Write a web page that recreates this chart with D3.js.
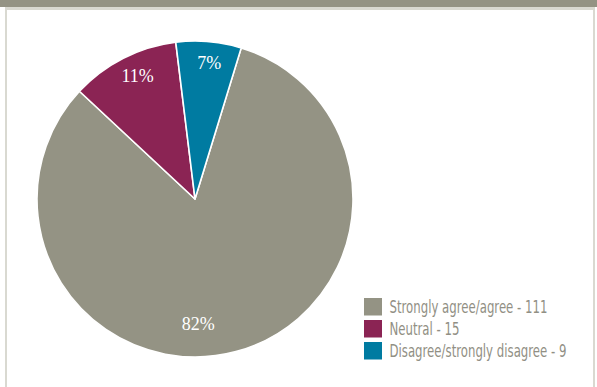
<!DOCTYPE html>
<html>
<head>
<meta charset="utf-8">
<script src="https://cdn.jsdelivr.net/npm/d3@7"></script>
<style>
  html, body { margin: 0; padding: 0; background: #ffffff; }
  svg { display: block; }
</style>
</head>
<body>
<svg id="chart" width="597" height="387"></svg>
<script>
// Survey responses
const categories = ["Strongly agree/agree", "Neutral", "Disagree/strongly disagree"];
const counts = [111, 15, 9];
const percentLabels = ["82%", "11%", "7%"];
const colors = ["#949384", "#8b2454", "#007ba1"];

const W = 597, H = 387;
const svg = d3.select("#chart");

// Header band and panel frame
svg.append("rect").attr("x", 0).attr("y", 0).attr("width", W).attr("height", 7).attr("fill", "#949384");
svg.append("rect").attr("x", 5).attr("y", 7).attr("width", 590).attr("height", H).attr("fill", "#d9d9d1");
svg.append("rect").attr("x", 7).attr("y", 10).attr("width", 586).attr("height", H).attr("fill", "#ffffff");

// Pie
const cx = 195, cy = 199, radius = 158;
const deg = Math.PI / 180;
const start = 17 * deg;
const pie = d3.pie().sort(null).value(d => d).startAngle(start).endAngle(start + 2 * Math.PI);
const arcs = pie(counts);
const arc = d3.arc().innerRadius(0).outerRadius(radius);

const g = svg.append("g").attr("transform", `translate(${cx},${cy})`);
g.selectAll("path.slice")
  .data(arcs)
  .join("path")
  .attr("class", "slice")
  .attr("d", arc)
  .attr("fill", (d, i) => colors[i])
  .attr("stroke", "#ffffff")
  .attr("stroke-width", 1.6)
  .attr("stroke-linejoin", "round");

// Percentage labels: radial fraction and angular shift from each slice's mid-angle
const labelRadius = [0.79, 0.86, 0.865];
const labelShift = [13.5, 2, 1];
g.selectAll("text.pct")
  .data(arcs)
  .join("text")
  .attr("class", "pct")
  .each(function (d, i) {
    const a = (d.startAngle + d.endAngle) / 2 + labelShift[i] * deg;
    const r = radius * labelRadius[i];
    d3.select(this)
      .attr("x", Math.sin(a) * r)
      .attr("y", -Math.cos(a) * r);
  })
  .attr("text-anchor", "middle")
  .attr("dominant-baseline", "central")
  .attr("fill", "#ffffff")
  .style("font-family", "'Liberation Serif', 'Times New Roman', serif")
  .style("font-size", "18px")
  .text((d, i) => percentLabels[i]);

// Legend
const legend = svg.append("g").attr("transform", "translate(364,298)");
const rowY = d3.scaleBand().domain(categories).range([0, 66]).paddingInner(0);
const items = legend.selectAll("g.item")
  .data(categories)
  .join("g")
  .attr("class", "item")
  .attr("transform", d => `translate(0,${rowY(d)})`);
items.append("rect")
  .attr("width", 18).attr("height", 17.5)
  .attr("fill", (d, i) => colors[i]);
const texts = items.append("text")
  .attr("x", 25.5)
  .attr("y", 14.5)
  .attr("fill", "#918f84")
  .style("font-family", "'Liberation Sans Narrow', 'DejaVu Sans Condensed', 'Liberation Sans', sans-serif")
  .style("font-size", "18px")
  .text((d, i) => `${d} - ${counts[i]}`);

// Condense the legend type so the longest entry spans 177px
let widest = 0;
texts.each(function () { widest = Math.max(widest, this.getComputedTextLength()); });
const sx = 177 / widest;
texts.attr("transform", `translate(25.5,0) scale(${sx},1) translate(-25.5,0)`);
</script>
</body>
</html>
